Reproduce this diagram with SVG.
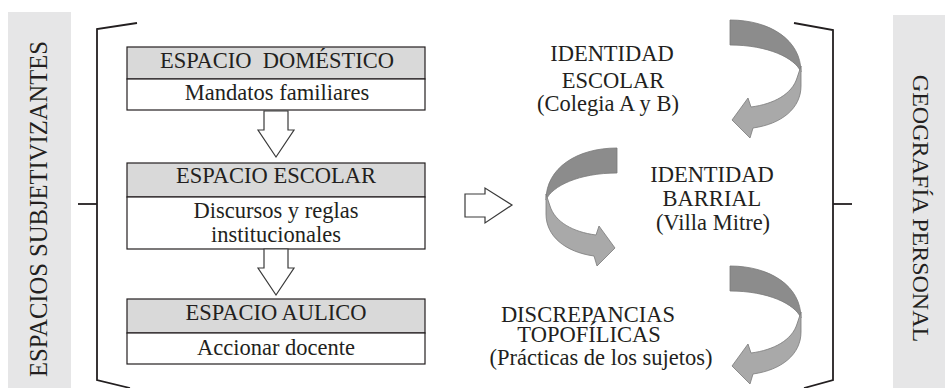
<svg xmlns="http://www.w3.org/2000/svg" xmlns:xlink="http://www.w3.org/1999/xlink" width="945" height="388" viewBox="0 0 945 388">
<style>
text{fill:#231f20;}
.t{font-size:22.5px;text-anchor:middle;}
.vl{font-size:24.6px;text-anchor:middle;}
.vr{font-size:24px;text-anchor:middle;}
.bar{fill:#e6e6e7;}
.hdr{fill:#d9d9d9;stroke:#231f20;stroke-width:1.2;}
.body{fill:#ffffff;stroke:#231f20;stroke-width:1.2;}
.br{fill:none;stroke:#231f20;stroke-width:1.8;}
.hol{fill:#ffffff;stroke:#3a3a3a;stroke-width:1.2;stroke-linejoin:miter;}
.dk{fill:#8c8c8c;stroke:#7a7a7a;stroke-width:0.8;}
.lt{fill:#a9a9a9;stroke:#7a7a7a;stroke-width:0.8;}
</style>
<defs>
<g id="curl">
<path class="dk" d="M0,0 C40,0 71,20 71,52 C65,38 38,25 0,25 Z"/>
<path class="lt" d="M71,46 L71,66 C71,88 52,104 23,108 L20,118 L2,100 L18,78 L21,87 C44,84 62,74 67,58 Z"/>
</g>
</defs>
<g font-family="Liberation Serif, Times New Roman, Tinos, DejaVu Serif, serif">
<g id="side-left">
<rect class="bar" x="8" y="12" width="63" height="376"/>
<text class="vl" transform="translate(47,209) rotate(-90)">ESPACIOS SUBJETIVIZANTES</text>
</g>
<g id="side-right">
<rect class="bar" x="893" y="15" width="52" height="373"/>
<text class="vr" transform="translate(913,208.5) rotate(90)">GEOGRAFÍA PERSONAL</text>
</g>

<g id="brackets">
<path class="br" d="M137,23 L97,29 L97,380 L130,388"/>
<path class="br" d="M78,204 L97,204"/>
<path class="br" d="M794,23 L833,30 L833,380 L804,388"/>
<path class="br" d="M833,204 L852,204"/>
</g>

<g id="espacio-domestico">
<rect class="hdr" x="127" y="47" width="298" height="32"/>
<rect class="body" x="127" y="79" width="298" height="31"/>
<text class="t" x="277" y="68" xml:space="preserve" style="white-space:pre">ESPACIO  DOMÉSTICO</text>
<text class="t" x="277" y="100">Mandatos familiares</text>
</g>

<g id="espacio-escolar">
<rect class="hdr" x="127" y="163" width="298" height="34"/>
<rect class="body" x="127" y="197" width="298" height="52"/>
<text class="t" x="276" y="183">ESPACIO ESCOLAR</text>
<text class="t" x="276" y="218">Discursos y reglas</text>
<text class="t" x="276" y="242">institucionales</text>
</g>

<g id="espacio-aulico">
<rect class="hdr" x="127" y="299" width="298" height="34"/>
<rect class="body" x="127" y="333" width="298" height="31"/>
<text class="t" x="276" y="320">ESPACIO AULICO</text>
<text class="t" x="276" y="355">Accionar docente</text>
</g>

<g id="identidad-escolar">
<text class="t" x="612" y="61">IDENTIDAD</text>
<text class="t" x="613" y="88">ESCOLAR</text>
<text class="t" x="608" y="111">(Colegia A y B)</text>
</g>

<g id="identidad-barrial">
<text class="t" x="712" y="182">IDENTIDAD</text>
<text class="t" x="712" y="206">BARRIAL</text>
<text class="t" x="713" y="230">(Villa Mitre)</text>
</g>

<g id="discrepancias">
<text class="t" x="588" y="322">DISCREPANCIAS</text>
<text class="t" x="589" y="342">TOPOFÍLICAS</text>
<text class="t" x="601" y="365">(Prácticas de los sujetos)</text>
</g>
</g>
<g id="connectors">
<path class="hol" d="M264,111 L288,111 L288,130 L294,130 L276,157 L258,130 L264,130 Z"/>
<path class="hol" d="M264,249 L288,249 L288,268 L294,268 L276,295 L258,268 L264,268 Z"/>
<path class="hol" d="M465,194 L485,194 L485,188 L512,205 L485,223 L485,217 L465,217 Z"/>
<use xlink:href="#curl" href="#curl" transform="translate(730,20)"/>
<use xlink:href="#curl" href="#curl" transform="translate(617,148) scale(-1,1)"/>
<use xlink:href="#curl" href="#curl" transform="translate(730,266)"/>
</g>
</svg>
